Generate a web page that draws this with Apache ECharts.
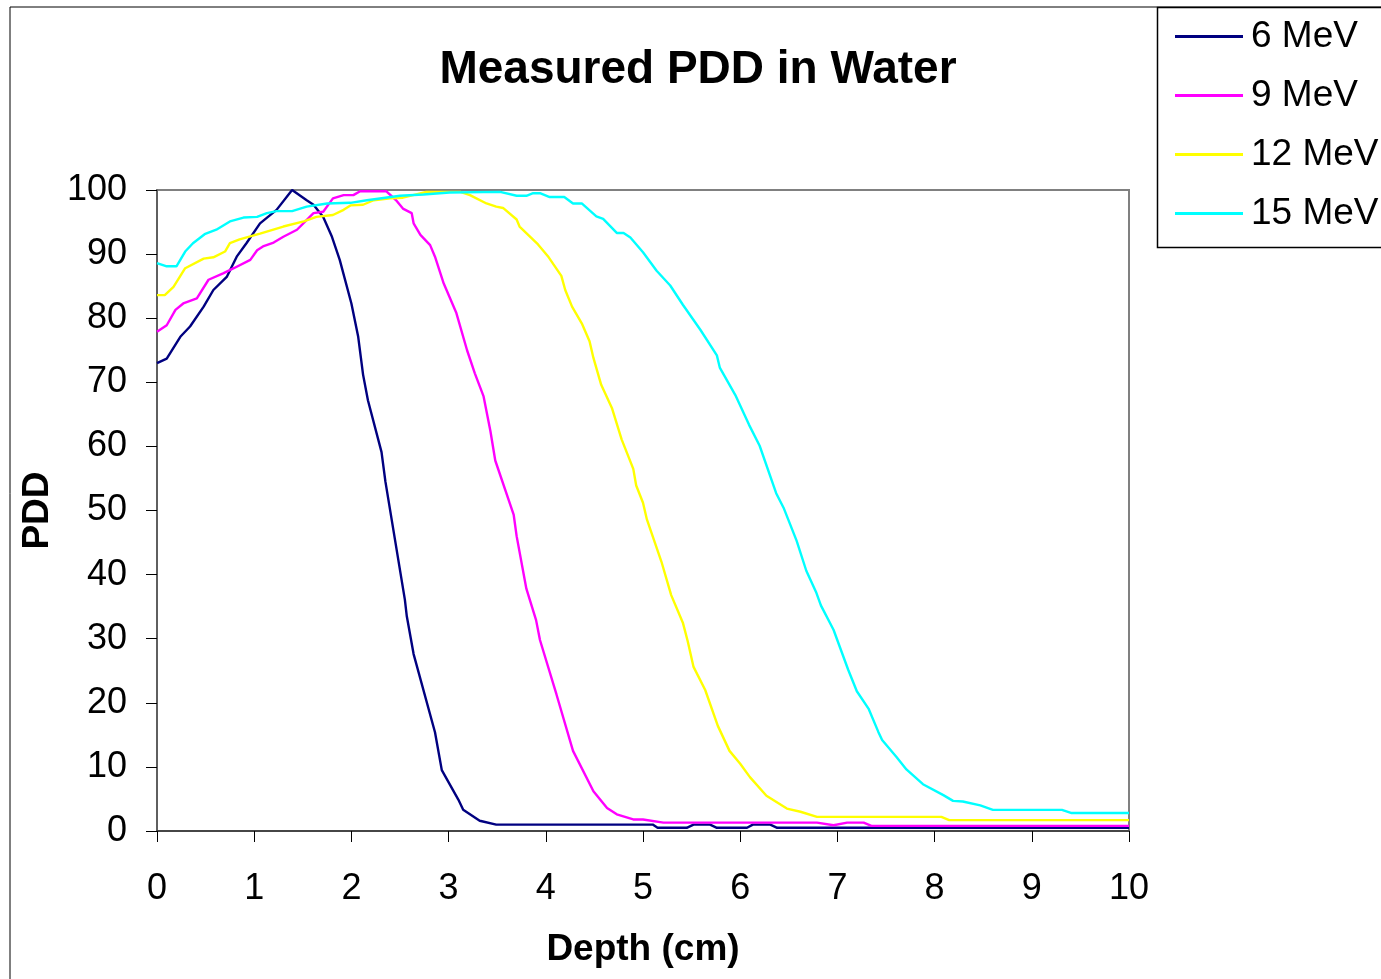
<!DOCTYPE html>
<html>
<head>
<meta charset="utf-8">
<script src="https://cdn.jsdelivr.net/npm/echarts@6/dist/echarts.min.js"></script>
<style>
html,body{margin:0;padding:0;background:#fff;}
#chart{width:1381px;height:979px;}
</style>
</head>
<body>
<div id="chart"></div>
<script>
// ---- data (depth in cm, PDD in %) ----
var seriesNames = ['6 MeV', '9 MeV', '12 MeV', '15 MeV'];
var xTicks = [0,1,2,3,4,5,6,7,8,9,10];
var yTicks = [0,10,20,30,40,50,60,70,80,90,100];

var depth6 = [0,0.1,0.24,0.34,0.48,0.58,0.72,0.82,0.92,1.06,1.23,1.39,1.54,1.61,1.71,1.80,1.88,2.0,2.07,2.12,2.17,2.31,2.35,2.55,2.57,2.64,2.86,2.93,3.10,3.15,3.32,3.49,5.1,5.15,5.45,5.52,5.69,5.76,6.07,6.13,6.31,6.38,10];
var pdd6   = [73.0,73.7,77.1,78.7,81.8,84.4,86.5,89.6,91.7,94.8,96.9,100,98.4,97.7,95.8,92.7,89.1,82.3,77.1,71.2,67.2,59.1,54.5,36.1,33.5,27.6,15.4,9.5,4.9,3.3,1.6,1.0,1.0,0.5,0.5,1.0,1.0,0.5,0.5,1.0,1.0,0.5,0.5];

var depth9 = [0,0.1,0.19,0.27,0.41,0.53,0.68,0.79,0.96,1.03,1.09,1.2,1.3,1.44,1.61,1.71,1.81,1.92,2.02,2.09,2.36,2.46,2.53,2.62,2.64,2.71,2.81,2.86,2.95,3.08,3.19,3.27,3.36,3.43,3.48,3.67,3.70,3.80,3.90,3.94,4.11,4.28,4.49,4.63,4.73,4.90,5.0,5.21,6.79,6.96,7.1,7.27,7.35,10];
var pdd9   = [77.9,78.9,81.3,82.3,83.1,86.0,87.0,87.8,89.1,90.6,91.2,91.8,92.7,93.8,96.4,96.6,98.7,99.2,99.2,99.8,99.8,98.4,97.1,96.4,94.8,93.0,91.4,89.6,85.4,80.8,75.0,71.4,67.8,62.4,57.8,49.3,46.0,37.8,32.9,29.8,21.3,12.5,6.2,3.6,2.6,1.8,1.8,1.3,1.3,0.9,1.3,1.3,0.8,0.8];

var depth12 = [0,0.08,0.17,0.29,0.48,0.58,0.70,0.75,0.85,1.06,1.30,1.51,1.64,1.81,1.92,1.99,2.12,2.23,2.40,2.53,2.77,3.12,3.22,3.39,3.49,3.56,3.70,3.73,3.92,4.03,4.16,4.20,4.27,4.37,4.45,4.49,4.57,4.68,4.78,4.90,4.93,5.00,5.04,5.19,5.29,5.41,5.46,5.52,5.64,5.77,5.89,6.0,6.10,6.27,6.48,6.62,6.79,8.07,8.15,10];
var pdd12   = [83.6,83.6,84.9,87.8,89.3,89.5,90.4,91.7,92.3,93.2,94.3,95.1,95.8,96.1,96.9,97.6,97.7,98.4,98.7,98.8,99.7,99.7,99.2,97.9,97.4,97.2,95.4,94.3,91.5,89.5,86.6,84.4,81.8,79.2,76.4,73.8,69.6,66.0,61.1,56.5,53.9,51.2,48.6,42.0,36.8,32.5,29.6,25.6,22.0,16.4,12.5,10.5,8.4,5.5,3.5,3.0,2.2,2.2,1.7,1.7];

var depth15 = [0,0.10,0.20,0.29,0.37,0.49,0.61,0.75,0.89,1.03,1.13,1.23,1.39,1.54,1.75,1.99,2.16,2.50,2.74,3.01,3.53,3.70,3.80,3.87,3.94,4.04,4.19,4.28,4.37,4.52,4.59,4.73,4.80,4.87,5.00,5.14,5.28,5.41,5.59,5.76,5.79,5.95,6.09,6.20,6.37,6.45,6.58,6.68,6.78,6.83,6.96,7.11,7.20,7.32,7.42,7.46,7.61,7.71,7.88,8.09,8.19,8.29,8.47,8.60,9.31,9.41,10];
var pdd15   = [88.6,88.1,88.1,90.4,91.7,93.1,93.8,95.1,95.7,95.8,96.4,96.7,96.7,97.4,97.9,98.0,98.4,99.1,99.3,99.6,99.7,99.1,99.1,99.5,99.5,98.9,98.9,97.9,97.9,95.9,95.5,93.3,93.3,92.6,90.3,87.4,85.1,82.1,78.2,74.2,72.3,68.0,63.4,60.1,52.7,50.3,45.3,40.6,37.3,35.2,31.4,25.2,21.8,19.1,15.5,14.2,11.5,9.6,7.3,5.6,4.7,4.6,4.0,3.3,3.3,2.8,2.8];

var colors = ['#000080', '#FF00FF', '#FFFF00', '#00FFFF'];

function pairs(xs, ys) {
  var out = [];
  for (var i = 0; i < xs.length; i++) out.push([xs[i], ys[i]]);
  return out;
}
var allData = [pairs(depth6, pdd6), pairs(depth9, pdd9), pairs(depth12, pdd12), pairs(depth15, pdd15)];

var FONT = '"Liberation Sans", Arial, sans-serif';
var chart = echarts.init(document.getElementById('chart'), null, {renderer: 'canvas'});

var option = {
  backgroundColor: '#fff',
  animation: false,
  title: {
    text: 'Measured PDD in Water',
    left: 698,
    textAlign: 'center',
    top: 47,
    padding: 0,
    textStyle: {fontFamily: FONT, fontSize: 46, fontWeight: 'bold', color: '#000'}
  },
  graphic: [
    {type: 'rect', z: -10, shape: {x: 10, y: 7, width: 1500, height: 1100},
     style: {fill: 'none', stroke: '#000', lineWidth: 1}},
    {type: 'rect', z: 1, shape: {x: 1157.5, y: 7.5, width: 300, height: 240},
     style: {fill: '#fff', stroke: '#000', lineWidth: 1.5}}
  ],
  legend: {
    orient: 'vertical',
    left: 1175,
    top: 18,
    padding: 0,
    itemGap: 22,
    itemWidth: 68,
    itemHeight: 3,
    icon: 'rect',
    z: 5,
    data: seriesNames,
    textStyle: {fontFamily: FONT, fontSize: 37, color: '#000', lineHeight: 37, padding: [0, 0, 0, 3]}
  },
  grid: {
    left: 157, top: 190, width: 972, height: 641,
    show: true, borderColor: '#808080', borderWidth: 2, backgroundColor: 'transparent'
  },
  xAxis: {
    type: 'value',
    min: 0, max: 10, interval: 1,
    name: 'Depth (cm)',
    nameLocation: 'middle',
    nameGap: 100,
    nameTextStyle: {fontFamily: FONT, fontSize: 37, fontWeight: 'bold', color: '#000'},
    axisLine: {show: true, onZero: false, lineStyle: {color: '#333', width: 1.5}},
    axisTick: {show: true, inside: false, length: 11, lineStyle: {color: '#000', width: 1}},
    axisLabel: {margin: 40, fontFamily: FONT, fontSize: 36, color: '#000',
      formatter: function (v) { return xTicks.indexOf(v) >= 0 ? String(v) : ''; }},
    splitLine: {show: false}
  },
  yAxis: {
    type: 'value',
    min: 0, max: 100, interval: 10,
    name: 'PDD',
    nameLocation: 'middle',
    nameGap: 98,
    nameRotate: 90,
    nameTextStyle: {fontFamily: FONT, fontSize: 37, fontWeight: 'bold', color: '#000'},
    axisLine: {show: true, onZero: false, lineStyle: {color: '#555', width: 1.5}},
    axisTick: {show: true, inside: false, length: 11, lineStyle: {color: '#000', width: 1}},
    axisLabel: {margin: 30, fontFamily: FONT, fontSize: 36, color: '#000',
      formatter: function (v) { return yTicks.indexOf(v) >= 0 ? String(v) : ''; }},
    splitLine: {show: false}
  },
  series: seriesNames.map(function (name, i) {
    return {
      name: name,
      type: 'line',
      data: allData[i],
      showSymbol: false,
      symbol: 'none',
      clip: false,
      color: colors[i],
      lineStyle: {color: colors[i], width: 2.4},
      z: 2 + i
    };
  })
};
chart.setOption(option);
</script>
</body>
</html>
